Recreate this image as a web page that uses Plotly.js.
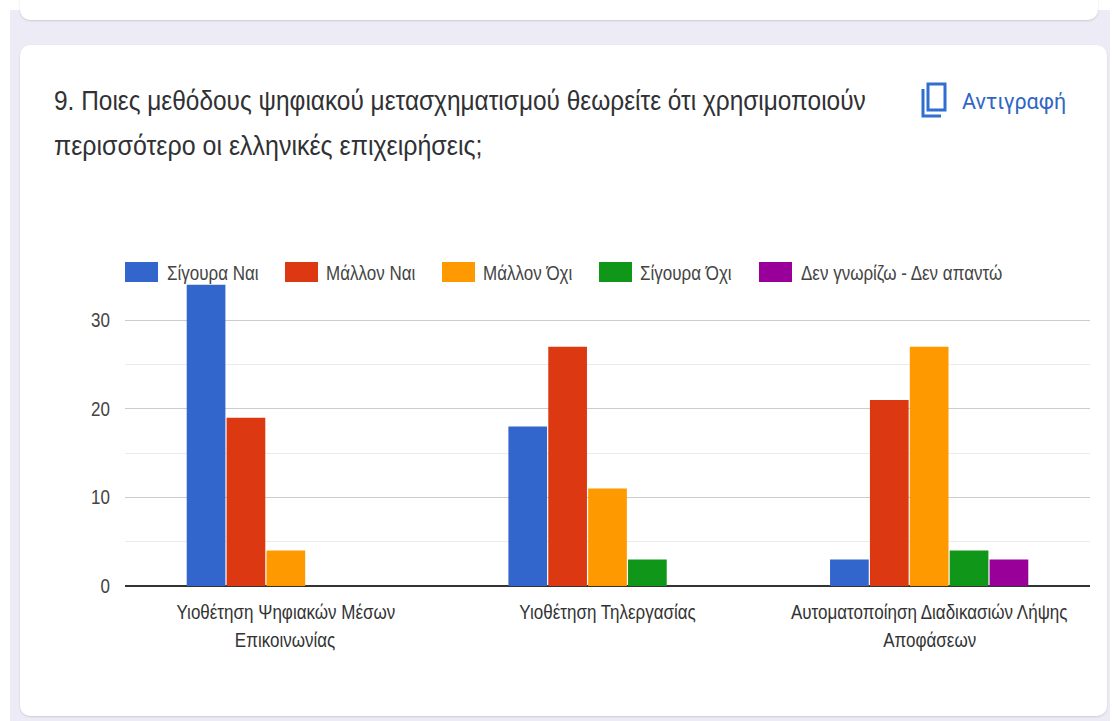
<!DOCTYPE html>
<html>
<head>
<meta charset="utf-8">
<script src="https://cdn.plot.ly/plotly-3.0.1.min.js"></script>
<style>
  html, body { margin: 0; padding: 0; background: #ffffff; width: 1115px; height: 721px; overflow: hidden; }
  .page { position: absolute; left: 10px; top: 10px; width: 1100px; height: 711px; background: #ecebf6; }
  .card { position: absolute; background: #ffffff; border-radius: 10px; box-shadow: 0 1px 2px rgba(60,64,67,0.18); }
  #card-top { left: 20px; top: -20px; width: 1078px; height: 40px; }
  #card-main { left: 20px; top: 45px; width: 1087px; height: 671px; }
  #chart { position: absolute; left: 0; top: 0; width: 1115px; height: 721px; }
</style>
</head>
<body>
<div class="page"></div>
<div class="card" id="card-top"></div>
<div class="card" id="card-main"></div>
<div id="chart"></div>
<script>
// Survey responses per digital transformation method
const categories = ['Υιοθέτηση Ψηφιακών Μέσων', 'Υιοθέτηση Τηλεργασίας', 'Αυτοματοποίηση Διαδικασιών Λήψης'];
const categoryContinuation = ['Επικοινωνίας', '', 'Αποφάσεων'];
const seriesNames = ['Σίγουρα Ναι', 'Μάλλον Ναι', 'Μάλλον Όχι', 'Σίγουρα Όχι', 'Δεν γνωρίζω - Δεν απαντώ'];
const sigouraNai = [34, 18, 3];
const mallonNai = [19, 27, 21];
const mallonOchi = [4, 11, 27];
const sigouraOchi = [0, 3, 4];
const denGnorizo = [0, 0, 3];
const seriesValues = [sigouraNai, mallonNai, mallonOchi, sigouraOchi, denGnorizo];
const seriesColors = ['#3366cc', '#dc3912', '#ff9900', '#109618', '#990099'];
const titleLines = ['9. Ποιες μεθόδους ψηφιακού μετασχηματισμού θεωρείτε ότι χρησιμοποιούν', 'περισσότερο οι ελληνικές επιχειρήσεις;'];
const copyLabel = 'Αντιγραφή';

// Plot box in page pixels
const W = 1115, H = 721;
const box = { left: 125, right: 1090, top: 276, bottom: 586 };
const px = x => (x - box.left) / (box.right - box.left);
const py = y => (box.bottom - y) / (box.bottom - box.top);

const sans = '"Liberation Sans", sans-serif';

const traces = seriesNames.map((name, i) => ({
  type: 'bar',
  name: name,
  x: categories,
  y: seriesValues[i],
  marker: { color: seriesColors[i] },
  hoverinfo: 'name+y'
}));

const text = (x, y, t, size, color, anchor, family) => ({
  xref: 'paper', yref: 'paper', x: px(x), y: py(y), text: t, showarrow: false,
  xanchor: anchor || 'left', yanchor: 'middle',
  font: { family: family || sans, size: size, color: color }
});

// Key along the top of the plot: swatch edges and label starts in page pixels
const keySwatchLeft = [125, 285, 442, 599, 759];
const keySwatchWidth = 33;
const keyLabelLeft = [165, 324, 481, 638, 799];

const shapes = seriesNames.map((_, i) => ({
  type: 'rect', xref: 'paper', yref: 'paper', layer: 'above',
  x0: px(keySwatchLeft[i]), x1: px(keySwatchLeft[i] + keySwatchWidth),
  y0: py(282), y1: py(262),
  fillcolor: seriesColors[i], line: { width: 0 }
}));

// Copy icon next to the link text
const iconBlue = '#2f6fd0';
shapes.push({
  type: 'rect', xref: 'paper', yref: 'paper',
  x0: px(928), x1: px(945), y0: py(110), y1: py(84),
  line: { color: iconBlue, width: 3 }, fillcolor: 'rgba(0,0,0,0)'
});
shapes.push({
  type: 'path', xref: 'paper', yref: 'paper',
  path: `M ${px(923)} ${py(89)} L ${px(923)} ${py(116)} L ${px(941)} ${py(116)}`,
  line: { color: iconBlue, width: 3 }
});

const annotations = [
  text(52, 101, titleLines[0], 27, '#303134'),
  text(52, 146, titleLines[1], 27, '#303134'),
  text(960, 101, copyLabel, 21.5, '#2f66c4', 'left', 'Roboto, sans-serif')
];
seriesNames.forEach((name, i) => annotations.push(text(keyLabelLeft[i], 273, name, 20, '#444444')));
categoryContinuation.forEach((label, i) => {
  if (label) annotations.push({
    xref: 'x', yref: 'paper', x: categories[i], y: py(640), text: label, showarrow: false,
    xanchor: 'center', yanchor: 'middle', font: { family: sans, size: 20, color: '#333333' }
  });
});

const layout = {
  width: W, height: H,
  margin: { l: box.left, r: W - box.right, t: box.top, b: H - box.bottom, pad: 0 },
  paper_bgcolor: 'rgba(0,0,0,0)',
  plot_bgcolor: 'rgba(0,0,0,0)',
  barmode: 'group',
  bargap: 0.38,
  bargroupgap: 0.03,
  showlegend: false,
  xaxis: {
    type: 'category',
    ticks: '', showgrid: false, showline: false,
    tickfont: { family: sans, size: 20, color: '#333333' },
    ticklabelstandoff: 12
  },
  yaxis: {
    range: [0, 35], tick0: 0, dtick: 10,
    ticks: '', showline: false, showgrid: true,
    gridcolor: '#cccccc', gridwidth: 1,
    zeroline: true, zerolinecolor: '#333333', zerolinewidth: 2,
    minor: { dtick: 5, showgrid: true, gridcolor: '#ebebeb', gridwidth: 1, ticks: '' },
    tickfont: { family: sans, size: 20, color: '#444444' },
    ticklabelstandoff: 14,
    automargin: false
  },
  shapes: shapes,
  annotations: annotations
};

// The typeface of this page is a condensed one: narrow each label's glyphs horizontally.
// Left-aligned labels keep their starting edge.
function condense(el, factor, keepLeft) {
  const before = el.getBBox();
  el.setAttribute('lengthAdjust', 'spacingAndGlyphs');
  el.setAttribute('textLength', el.getComputedTextLength() * factor);
  if (keepLeft) {
    const after = el.getBBox();
    el.setAttribute('x', parseFloat(el.getAttribute('x') || 0) + before.x - after.x);
  }
}

Plotly.newPlot('chart', traces, layout, { displayModeBar: false, staticPlot: true }).then(() => {
  document.querySelectorAll('#chart .annotation-text').forEach(el => {
    const t = el.textContent;
    if (t === copyLabel) return;
    if (t === titleLines[0]) condense(el, 0.905, true);
    else if (t === titleLines[1]) condense(el, 0.925, true);
    else if (seriesNames.includes(t)) condense(el, 0.85, true);
    else condense(el, 0.85, false);
  });
  document.querySelectorAll('#chart .xtick text, #chart .ytick text').forEach(el => condense(el, 0.85, false));
});
</script>
</body>
</html>
